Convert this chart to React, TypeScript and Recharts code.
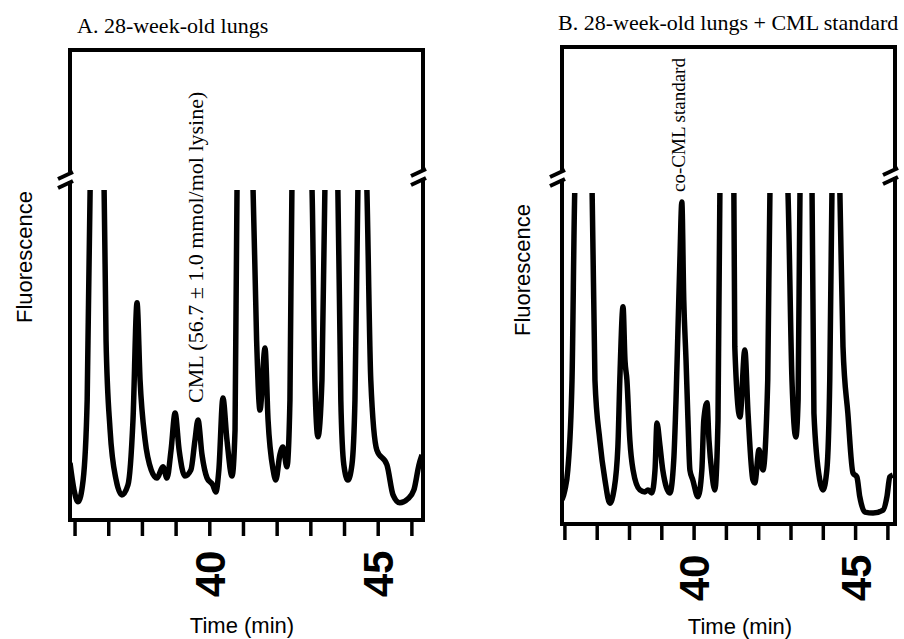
import React from 'react';
import { LineChart, Line, XAxis, YAxis, ReferenceDot } from 'recharts';

const SERIF = '"Liberation Serif", "Times New Roman", serif';
const SANS = '"Liberation Sans", Arial, sans-serif';

// ---- Panel A: 28-week-old lungs (time in min, fluorescence in % of clipped range)
const timeA = [35.85, 35.97, 36.09, 36.24, 36.36, 36.45, 36.65, 36.86, 36.92, 37.04, 37.22, 37.39, 37.57, 37.72, 37.84, 37.93, 38.08, 38.26, 38.43, 38.61, 38.73, 38.85, 38.97, 39.09, 39.26, 39.44, 39.56, 39.65, 39.77, 39.92, 40.09, 40.18, 40.27, 40.39, 40.51, 40.66, 40.75, 40.81, 41.04, 41.28, 41.39, 41.49, 41.64, 41.73, 41.88, 41.96, 42.08, 42.17, 42.29, 42.38, 42.44, 42.74, 43.03, 43.12, 43.21, 43.33, 43.42, 43.60, 43.80, 43.89, 43.98, 44.10, 44.22, 44.31, 44.40, 44.52, 44.66, 44.78, 44.96, 45.26, 45.44, 45.64, 45.88, 46.06, 46.21, 46.30];
const fluorA = [17.3, 9.1, 5.5, 12.1, 36.4, 102, 135, 102, 54.5, 27.3, 12.1, 7.6, 10.6, 30.3, 65.8, 42.4, 24.2, 15.2, 12.7, 16.1, 12.7, 21.2, 32.4, 21.2, 13.3, 15.2, 24.2, 30.3, 19.7, 12.7, 10.6, 8.5, 15.2, 37.0, 24.2, 13.3, 27.3, 102, 135, 102, 54.5, 33.3, 52.1, 30.3, 15.2, 12.1, 19.7, 22.1, 16.1, 36.4, 102, 135, 102, 42.4, 25.2, 42.4, 102, 135, 102, 36.4, 16.7, 12.1, 16.7, 36.4, 102, 135, 102, 42.4, 21.2, 16.7, 7.6, 5.2, 6.4, 9.1, 16.7, 19.7];

// ---- Panel B: 28-week-old lungs + CML standard
const timeB = [35.91, 36.00, 36.09, 36.22, 36.31, 36.59, 36.84, 36.93, 37.08, 37.24, 37.39, 37.52, 37.64, 37.70, 37.80, 37.86, 37.92, 38.01, 38.11, 38.32, 38.48, 38.57, 38.69, 38.79, 38.85, 38.94, 39.03, 39.25, 39.37, 39.44, 39.50, 39.56, 39.62, 39.68, 39.75, 39.81, 39.87, 39.96, 40.12, 40.24, 40.30, 40.40, 40.46, 40.55, 40.64, 40.74, 40.80, 41.02, 41.23, 41.26, 41.42, 41.57, 41.67, 41.82, 41.88, 42.01, 42.13, 42.28, 42.35, 42.63, 42.90, 43.03, 43.15, 43.22, 43.28, 43.46, 43.65, 43.71, 43.89, 43.99, 44.11, 44.20, 44.27, 44.39, 44.51, 44.61, 44.76, 44.92, 45.04, 45.13, 45.29, 45.54, 45.85, 45.97, 46.06, 46.15];
const fluorB = [7.3, 10.3, 16.3, 43.5, 102, 135, 102, 43.5, 25.4, 13.3, 6.3, 10.3, 23.3, 43.5, 65.6, 49.5, 43.5, 25.4, 16.3, 10.3, 9.7, 10.3, 9.4, 16.3, 30.5, 23.9, 16.3, 9.4, 19.3, 37.5, 58.6, 79.8, 97.3, 67.7, 49.5, 31.4, 16.3, 13.3, 8.2, 16.3, 31.4, 36.6, 25.4, 15.4, 10.3, 31.4, 102, 135, 102, 53.5, 32.3, 52.6, 33.5, 13.3, 12.4, 22.4, 16.3, 43.5, 102, 135, 102, 43.5, 26.3, 37.5, 102, 135, 102, 33.5, 13.3, 10.3, 16.3, 43.5, 102, 135, 102, 53.5, 33.5, 15.4, 14.2, 8.2, 3.6, 3.3, 4.2, 8.2, 14.2, 14.8];

// ---- Axis ticks
const timeTicks = [36, 37, 38, 39, 40, 41, 42, 43, 44, 45, 46];
const labelledTicks = [40, 45];

// ---- Texts
const titleA = 'A. 28-week-old lungs';
const titleB = 'B. 28-week-old lungs + CML standard';
const yTitle = 'Fluorescence';
const xTitle = 'Time (min)';
const annotA = { t: 39.65, v: 30.3, text: 'CML (56.7 ± 1.0 mmol/mol lysine)' };
const annotB = { t: 39.62, v: 97.3, text: 'co-CML standard' };

// ---- Layout (pixels)
const H = 639;
const panelA = {
  title: titleA, times: timeA, values: fluorA, domainX: [35.85, 46.33], annot: annotA,
  annotStyle: { fontSize: 22, dx: 5, dy: -17 },
  left: 0, width: 452, plotLeft: 70, plotRight: 423, plotTop: 190, plotBottom: 520,
  frameTop: 50, breakL: 176, breakR: 173,
  titleX: 77, titleY: 33, yTitleX: 32, yTitleY: 257, xTitleX: 242, xTitleY: 633,
};
const panelB = {
  title: titleB, times: timeB, values: fluorB, domainX: [35.91, 46.22], annot: annotB,
  annotStyle: { fontSize: 19, dx: 3, dy: -10 },
  left: 452, width: 452, plotLeft: 562, plotRight: 895, plotTop: 193, plotBottom: 524,
  frameTop: 47, breakL: 174, breakR: 172,
  titleX: 558, titleY: 30, yTitleX: 530, yTitleY: 270, xTitleX: 740, xTitleY: 634,
};

const TimeTick = (props: any) => {
  const { x, y, payload } = props;
  if (!labelledTicks.includes(payload.value)) return <g />;
  const fs = 42;
  return (
    <text
      transform={`translate(${x + fs * 0.36},${y + 38}) rotate(-90)`}
      textAnchor="middle"
      fontFamily={SANS}
      fontWeight="bold"
      fontSize={fs}
      fill="#000"
    >
      {payload.value}
    </text>
  );
};

const makeAnnot = (a: any, st: any) => (lp: any) => {
  const vb = lp && lp.viewBox ? lp.viewBox : { x: 0, y: 0, width: 0, height: 0 };
  const x = vb.x + (vb.width || 0) / 2 + st.dx;
  const y = vb.y + (vb.height || 0) / 2 + st.dy;
  return (
    <text transform={`translate(${x},${y}) rotate(-90)`} textAnchor="start" fontFamily={SERIF} fontSize={st.fontSize} fill="#000">
      {a.text}
    </text>
  );
};

function Chromatogram({ p }: { p: any }) {
  const data = p.times.map((t: number, i: number) => ({ t, f: p.values[i] }));
  const localLeft = p.plotLeft - p.left;
  const localRight = p.plotRight - p.left;
  return (
    <div style={{ position: 'absolute', left: p.left, top: 0 }}>
      <LineChart
        width={p.width}
        height={H}
        data={data}
        margin={{ top: p.plotTop, right: p.width - localRight, bottom: 0, left: 0 }}
      >
        <XAxis
          type="number"
          dataKey="t"
          domain={p.domainX}
          allowDataOverflow
          ticks={timeTicks}
          interval={0}
          height={H - p.plotBottom}
          tickSize={16}
          tickMargin={0}
          axisLine={{ stroke: '#000', strokeWidth: 4 }}
          tickLine={{ stroke: '#000', strokeWidth: 3.5 }}
          tick={(tp: any) => <TimeTick {...tp} />}
        />
        <YAxis
          type="number"
          domain={[0, 100]}
          allowDataOverflow
          width={localLeft}
          tick={false}
          axisLine={false}
          tickLine={false}
        />
        <Line
          type="monotone"
          dataKey="f"
          stroke="#000"
          strokeWidth={5.5}
          strokeLinejoin="round"
          dot={false}
          isAnimationActive={false}
        />
        <ReferenceDot
          x={p.annot.t}
          y={p.annot.v}
          r={0}
          fill="none"
          stroke="none"
          ifOverflow="visible"
          label={{ content: makeAnnot(p.annot, p.annotStyle) }}
        />
      </LineChart>
    </div>
  );
}

function Frame({ p }: { p: any }) {
  const sw = 4;
  const side = (x: number, by: number) => (
    <g>
      <line x1={x} y1={p.frameTop} x2={x} y2={by - 4} />
      <line x1={x - 12} y1={by + 3} x2={x + 3} y2={by - 4} />
      <line x1={x - 12} y1={by + 12} x2={x + 3} y2={by + 5} />
      <line x1={x} y1={by + 5} x2={x} y2={p.plotBottom + sw / 2} />
    </g>
  );
  return (
    <g>
      <g stroke="#000" strokeWidth={sw} fill="none">
        <line x1={p.plotLeft - sw / 2} y1={p.frameTop} x2={p.plotRight + sw / 2} y2={p.frameTop} />
        {side(p.plotLeft, p.breakL)}
        {side(p.plotRight, p.breakR)}
      </g>
      <text x={p.titleX} y={p.titleY} fontFamily={SERIF} fontSize={22} fill="#000">{p.title}</text>
      <text transform={`translate(${p.yTitleX},${p.yTitleY}) rotate(-90)`} textAnchor="middle" fontFamily={SANS} fontSize={22} fill="#000">{yTitle}</text>
      <text x={p.xTitleX} y={p.xTitleY} textAnchor="middle" fontFamily={SANS} fontSize={22} fill="#000">{xTitle}</text>
    </g>
  );
}

export default function App() {
  return (
    <div style={{ position: 'absolute', left: 0, top: 0, width: 904, height: H, background: '#fff', overflow: 'hidden' }}>
      <Chromatogram p={panelA} />
      <Chromatogram p={panelB} />
      <svg width={904} height={H} style={{ position: 'absolute', left: 0, top: 0, pointerEvents: 'none' }}>
        <Frame p={panelA} />
        <Frame p={panelB} />
      </svg>
    </div>
  );
}
